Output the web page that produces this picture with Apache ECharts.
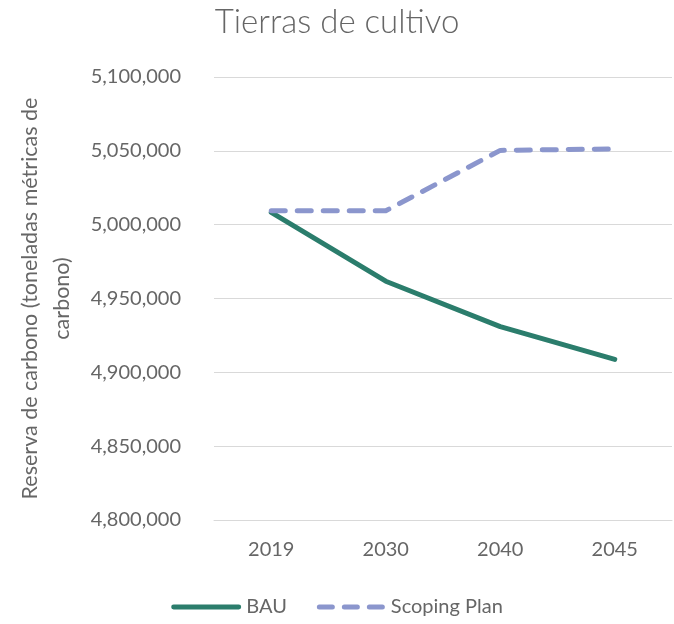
<!DOCTYPE html>
<html>
<head>
<meta charset="utf-8">
<script src="https://cdn.jsdelivr.net/npm/echarts@6/dist/echarts.min.js"></script>
<style>
  html, body { margin: 0; padding: 0; background: #fff; }
  #chart { width: 674px; height: 624px; }
</style>
</head>
<body>
<div id="chart"></div>
<script>
// Crop-land carbon stock under two scenarios
const years = ['2019', '2030', '2040', '2045'];
const bauValues = [5008300, 4961700, 4931000, 4908800];
const scopingValues = [5009400, 5009400, 5050300, 5051300];
const yMin = 4800000;
const yMax = 5100000;
const yStep = 50000;

const textColor = '#666666';
const fontFamily = 'Lato, "Open Sans", sans-serif';
const bauColor = '#2b7d6c';
const scopingColor = '#8b96cd';

// legend glyphs: a solid bar and three short dashes
const solidIcon = 'path://M2.5,0H69.5A2.5,2.5 0 0 1 69.5,5H2.5A2.5,2.5 0 0 1 2.5,0Z';
const dashIcon = 'path://M2.5,0H15.5A2.5,2.5 0 0 1 15.5,5H2.5A2.5,2.5 0 0 1 2.5,0Z' +
  'M27.5,0H40.5A2.5,2.5 0 0 1 40.5,5H27.5A2.5,2.5 0 0 1 27.5,0Z' +
  'M52.5,0H65.5A2.5,2.5 0 0 1 65.5,5H52.5A2.5,2.5 0 0 1 52.5,0Z';

const chart = echarts.init(document.getElementById('chart'));
chart.setOption({
  backgroundColor: '#ffffff',
  animation: false,
  title: {
    text: 'Tierras de cultivo',
    left: 'center',
    top: 1,
    textStyle: { color: textColor, fontFamily, fontSize: 33, fontWeight: 300 }
  },
  legend: {
    bottom: 2,
    left: 'center',
    itemWidth: 70,
    itemHeight: 5,
    itemGap: 30,
    textStyle: { color: textColor, fontFamily, fontSize: 20 },
    data: [
      { name: 'BAU', icon: solidIcon, itemStyle: { color: bauColor, borderWidth: 0 } },
      { name: 'Scoping Plan', icon: dashIcon, itemStyle: { color: scopingColor, borderWidth: 0 } }
    ]
  },
  grid: { left: 214, right: 2, top: 77, bottom: 104, containLabel: false },
  xAxis: {
    type: 'category',
    data: years,
    boundaryGap: true,
    axisLine: { show: true, lineStyle: { color: '#d9d9d9', width: 1 } },
    axisTick: { show: false },
    axisLabel: { color: textColor, fontFamily, fontSize: 20, margin: 20 }
  },
  yAxis: {
    type: 'value',
    min: yMin,
    max: yMax,
    interval: yStep,
    name: 'Reserva de carbono (toneladas métricas de\ncarbono)',
    nameLocation: 'middle',
    nameGap: 136,
    nameRotate: 90,
    nameTextStyle: { color: textColor, fontFamily, fontSize: 21.5, lineHeight: 32, align: 'center' },
    axisLine: { show: false },
    axisTick: { show: false },
    splitLine: { lineStyle: { color: '#d9d9d9', width: 1 } },
    axisLabel: {
      color: textColor, fontFamily, fontSize: 20, margin: 33,
      formatter: v => v.toLocaleString('en-US')
    }
  },
  series: [
    {
      name: 'BAU',
      type: 'line',
      data: bauValues,
      symbol: 'none',
      lineStyle: { color: bauColor, width: 5, cap: 'round', join: 'round' },
      itemStyle: { color: bauColor }
    },
    {
      name: 'Scoping Plan',
      type: 'line',
      data: scopingValues,
      symbol: 'none',
      lineStyle: { color: scopingColor, width: 5, type: [14, 12], cap: 'round', join: 'round' },
      itemStyle: { color: scopingColor }
    }
  ]
});
</script>
</body>
</html>
